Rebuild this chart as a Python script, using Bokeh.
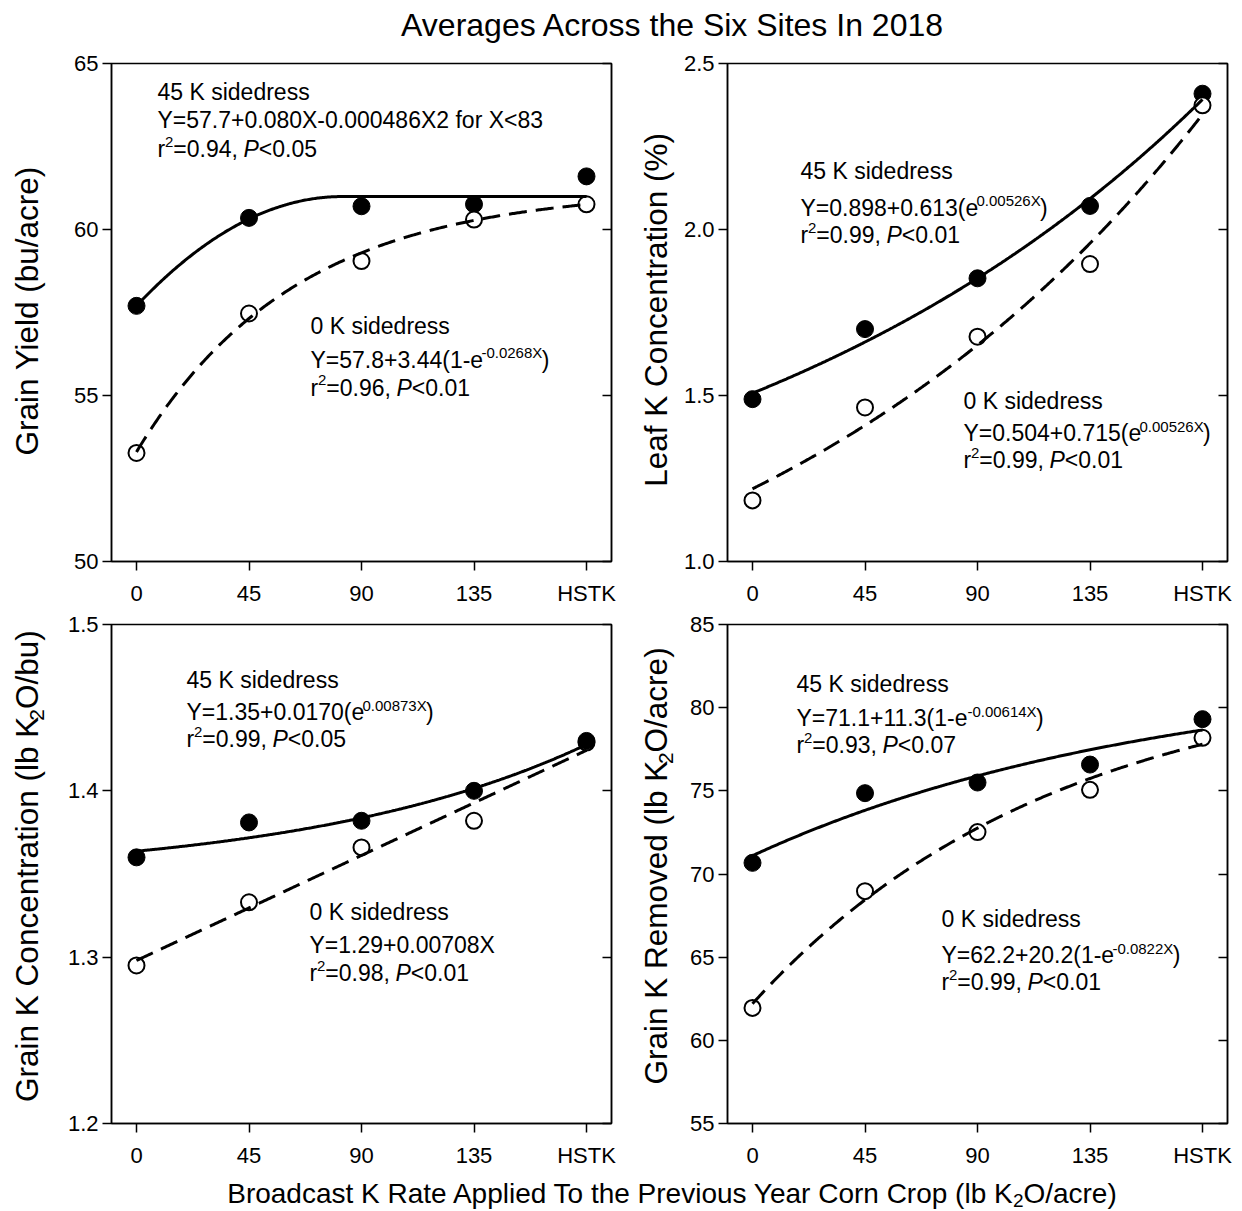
import numpy as np
from bokeh.plotting import figure
from bokeh.models import Range1d, FixedTicker, LinearAxis, NumeralTickFormatter, Label
from bokeh.core.properties import value
from bokeh.layouts import column, row
from bokeh.embed import file_html
from bokeh.resources import INLINE

FONT = "Liberation Sans"

# ---------------- data ----------------
rates = [0, 45, 90, 135, 180]
rate_labels = ["0", "45", "90", "135", "HSTK"]

yield_45 = [57.7, 60.35, 60.7, 60.76, 61.6]
yield_0 = [53.27, 57.47, 59.05, 60.3, 60.76]
leaf_45 = [1.489, 1.70, 1.853, 2.071, 2.409]
leaf_0 = [1.184, 1.464, 1.677, 1.896, 2.374]
gkc_45 = [1.360, 1.381, 1.382, 1.400, 1.430]
gkc_0 = [1.295, 1.333, 1.366, 1.382, 1.429]
gkr_45 = [70.67, 74.86, 75.50, 76.58, 79.31]
gkr_0 = [61.95, 68.97, 72.52, 75.06, 78.19]

# fitted-curve coefficients (as drawn)
fit_yield_45 = [57.7, 0.080, -0.000486]        # quadratic-plateau
fit_yield_0 = [53.3, 7.92, 0.01574]            # a + b(1-exp(-cX))
fit_leaf_45 = [0.884, 0.623, 0.00491]          # a + b exp(cX)
fit_leaf_0 = [0.504, 0.715, 0.00526]
fit_gkc_45 = [1.347, 0.0167, 0.00876]          # a + b exp(cX)
fit_gkc_0 = [1.298, 0.000702]                  # linear
fit_gkr_45 = [71.1, 11.3, 0.00614]             # a + b(1-exp(-cX))
fit_gkr_0 = [62.2, 20.2, 0.00822]

XS = np.linspace(0, 180, 361)


def quad_plateau(c):
    xj = -c[1] / (2 * c[2])
    xc = np.minimum(XS, xj)
    return c[0] + c[1] * xc + c[2] * xc ** 2


def exp_rise(c):
    return c[0] + c[1] * (1 - np.exp(-c[2] * XS))


def exp_growth(c):
    return c[0] + c[1] * np.exp(c[2] * XS)


def linear(c):
    return c[0] + c[1] * XS


# Arial / Liberation Sans advance widths (per 1000 em)
W = {' ': 278, '.': 278, ',': 278, '=': 584, '+': 584, '-': 333, '<': 584, '(': 333, ')': 333,
     '/': 278, '%': 889, 'X': 667, 'Y': 667, 'K': 667, 'P': 667, 'G': 778, 'C': 722, 'L': 556,
     'O': 778, 'R': 722, 'B': 667, 'A': 667, 'T': 611, 'S': 667, 'I': 278, 'H': 722,
     'a': 556, 'b': 556, 'c': 500, 'd': 556, 'e': 556, 'f': 278, 'g': 556, 'h': 556, 'i': 222,
     'j': 222, 'k': 500, 'l': 222, 'm': 833, 'n': 556, 'o': 556, 'p': 556, 'q': 556, 'r': 333,
     's': 500, 't': 278, 'u': 556, 'v': 500, 'w': 722, 'x': 500, 'y': 500, 'z': 500}

KMID = 0.36   # distance from alphabetic baseline to the text box middle, in em


def tw(s, size):
    return 0.99 * sum(W.get(ch, 556) for ch in s) / 1000.0 * size


class Pan:
    """maps page pixels to the data space of a panel"""
    def __init__(self, left, top, ylo, yhi):
        self.left, self.top, self.ylo, self.yhi = left, top, ylo, yhi

    def to_data(self, px, py):
        X = -10 + (px - self.left) / 500.0 * 200.0
        Y = self.yhi - (py - self.top) / 499.0 * (self.yhi - self.ylo)
        return X, Y


class Blank:
    """blank figure whose data units are page pixels inside its frame"""
    def __init__(self, left, top, w, h, bt=0, bb=0):
        self.left, self.w = left, w
        self.ftop = top + bt
        self.fh = h - bt - bb
        b = figure(width=w, height=h, x_range=Range1d(0, w), y_range=Range1d(0, self.fh),
                   output_backend="svg", toolbar_location=None,
                   min_border_left=0, min_border_right=0, min_border_top=bt, min_border_bottom=bb,
                   x_axis_type=None, y_axis_type=None)
        b.outline_line_color = None
        b.grid.visible = False
        self.fig = b

    def to_data(self, px, py):
        return px - self.left, self.fh - (py - self.ftop)


def add_label(p, X, Y, txt, size, style="normal", align="left"):
    p.add_layout(Label(x=X, y=Y, x_units="data", y_units="data", text=txt,
                       text_font=FONT, text_font_size=f"{size}px", text_font_style=style,
                       text_color="black", text_align=align, text_baseline="middle"))


def rich(p, pan, x0, base, segs, size=23, sup=15, raise_=10, lower=5, center=False):
    if center:
        total = sum(tw(t, sup if k in ("sup", "sub") else size) for t, k in segs)
        x0 = x0 - total / 2.0
    cx = x0
    for txt, kind in segs:
        fs = sup if kind in ("sup", "sub") else size
        dy = -raise_ if kind == "sup" else (lower if kind == "sub" else 0)
        X, Y = pan.to_data(cx, base + dy - KMID * fs)
        add_label(p, X, Y, txt, fs, "italic" if kind == "it" else "normal")
        cx += tw(txt, fs)


def rich_v(blank, xbase, ycenter, segs, size=31.5, sub=21, lower=6):
    total = sum(tw(t, sub if k == "sub" else size) for t, k in segs)
    cy = ycenter + total / 2.0
    for txt, kind in segs:
        fs = sub if kind == "sub" else size
        dx = lower if kind == "sub" else 0
        X, Y = blank.to_data(xbase + dx - KMID * fs, cy)
        blank.fig.text(x=[X], y=[Y], text=[txt], angle=np.pi / 2, text_font=value(FONT),
                       text_font_size=f"{fs}px", text_align="left", text_baseline="middle",
                       text_color="black")
        cy -= tw(txt, fs)


def make_panel(width, height, bl, br, bt, bb, ylo, yhi, ystep, yfmt):
    p = figure(width=width, height=height, x_range=Range1d(-10, 190), y_range=Range1d(ylo, yhi),
               output_backend="svg", toolbar_location=None,
               min_border_left=bl, min_border_right=br, min_border_top=bt, min_border_bottom=bb)
    p.grid.visible = False
    p.outline_line_color = "black"
    p.outline_line_width = 1.5
    p.outline_line_alpha = 1.0
    yt = list(np.round(np.arange(ylo, yhi + ystep / 2, ystep), 4))
    p.xaxis.ticker = FixedTicker(ticks=rates)
    p.xaxis.major_label_overrides = {r: l for r, l in zip(rates, rate_labels)}
    p.yaxis.ticker = FixedTicker(ticks=yt)
    p.yaxis.formatter = NumeralTickFormatter(format=yfmt)
    for ax in (p.xaxis[0], p.yaxis[0]):
        ax.major_tick_out = 9
        ax.major_tick_in = 0
        ax.minor_tick_line_color = None
        ax.major_tick_line_width = 1.5
        ax.axis_line_width = 1.5
        ax.major_label_text_font = FONT
        ax.major_label_text_font_size = "22px"
        ax.major_label_text_color = "black"
    p.xaxis.major_label_standoff = 10
    p.yaxis.major_label_standoff = 4
    rax = LinearAxis(ticker=FixedTicker(ticks=yt), major_tick_in=9, major_tick_out=0,
                     minor_tick_line_color=None, axis_line_width=1.5, major_tick_line_width=1.5,
                     major_label_overrides={t: "" for t in yt}, major_label_standoff=0)
    p.add_layout(rax, "right")
    return p


def draw(p, y45, y0, c45, c0, open_first=False):
    def solid_pts():
        p.scatter(rates, y45, size=17, marker="circle", fill_color="black", line_color="black")

    def open_pts():
        p.scatter(rates, y0, size=16, marker="circle", fill_color="white", line_color="black",
                  line_width=2)
    if open_first:
        open_pts(); solid_pts()
    else:
        solid_pts(); open_pts()
    p.line(XS, c45, line_width=3, line_color="black")
    p.line(XS, c0, line_width=3, line_color="black", line_dash="18 9")


# ---------------- layout geometry (page pixels) ----------------
TITLE_H = 48
TOP_H = 560
BOT_H = 562
XLAB_H = 41
TOP_Y = TITLE_H
BOT_Y = TITLE_H + TOP_H
XL_Y = BOT_Y + BOT_H

p1 = make_panel(565, TOP_H, 51, 14, 15, 46, 50, 65, 5, "0")
p2 = make_panel(562, TOP_H, 47, 15, 15, 46, 1.0, 2.5, 0.5, "0.0")
p3 = make_panel(565, BOT_H, 51, 14, 16, 47, 1.2, 1.5, 0.1, "0.0")
p4 = make_panel(562, BOT_H, 47, 15, 16, 47, 55, 85, 5, "0")

pan1 = Pan(111, 63, 50, 65)
pan2 = Pan(727, 63, 1.0, 2.5)
pan3 = Pan(111, 624, 1.2, 1.5)
pan4 = Pan(727, 624, 55, 85)

draw(p1, yield_45, yield_0, quad_plateau(fit_yield_45), exp_rise(fit_yield_0))
draw(p2, leaf_45, leaf_0, exp_growth(fit_leaf_45), exp_growth(fit_leaf_0))
draw(p3, gkc_45, gkc_0, exp_growth(fit_gkc_45), linear(fit_gkc_0), open_first=True)
draw(p4, gkr_45, gkr_0, exp_rise(fit_gkr_45), exp_rise(fit_gkr_0))


def r2(val, pv):
    return [("r", "n"), ("2", "sup"), ("=" + val + ", ", "n"), ("P", "it"), ("<" + pv, "n")]


# panel 1 annotations
rich(p1, pan1, 157, 100, [("45 K sidedress", "n")])
rich(p1, pan1, 157, 128, [("Y=57.7+0.080X-0.000486X2 for X<83", "n")])
rich(p1, pan1, 157, 157, r2("0.94", "0.05"))
rich(p1, pan1, 310, 334, [("0 K sidedress", "n")])
rich(p1, pan1, 310, 368, [("Y=57.8+3.44(1-e", "n"), ("-0.0268X", "sup"), (")", "n")])
rich(p1, pan1, 310, 396, r2("0.96", "0.01"))

# panel 2
rich(p2, pan2, 800, 179, [("45 K sidedress", "n")])
rich(p2, pan2, 800, 216, [("Y=0.898+0.613(e", "n"), ("0.00526X", "sup"), (")", "n")])
rich(p2, pan2, 800, 243, r2("0.99", "0.01"))
rich(p2, pan2, 963, 409, [("0 K sidedress", "n")])
rich(p2, pan2, 963, 442, [("Y=0.504+0.715(e", "n"), ("0.00526X", "sup"), (")", "n")])
rich(p2, pan2, 963, 469, r2("0.99", "0.01"))

# panel 3
rich(p3, pan3, 186, 688, [("45 K sidedress", "n")])
rich(p3, pan3, 186, 720, [("Y=1.35+0.0170(e", "n"), ("0.00873X", "sup"), (")", "n")])
rich(p3, pan3, 186, 747, r2("0.99", "0.05"))
rich(p3, pan3, 309, 920, [("0 K sidedress", "n")])
rich(p3, pan3, 309, 953, [("Y=1.29+0.00708X", "n")])
rich(p3, pan3, 309, 981, r2("0.98", "0.01"))

# panel 4
rich(p4, pan4, 796, 692, [("45 K sidedress", "n")])
rich(p4, pan4, 796, 726, [("Y=71.1+11.3(1-e", "n"), ("-0.00614X", "sup"), (")", "n")])
rich(p4, pan4, 796, 753, r2("0.93", "0.07"))
rich(p4, pan4, 941, 927, [("0 K sidedress", "n")])
rich(p4, pan4, 941, 963, [("Y=62.2+20.2(1-e", "n"), ("-0.0822X", "sup"), (")", "n")])
rich(p4, pan4, 941, 990, r2("0.99", "0.01"))

# ---------------- y-axis title strips (frames aligned with the panels' frames) ----------------
yl1 = Blank(0, TOP_Y, 60, TOP_H, 15, 46)
yl2 = Blank(625, TOP_Y, 55, TOP_H, 15, 46)
yl3 = Blank(0, BOT_Y, 60, BOT_H, 16, 47)
yl4 = Blank(625, BOT_Y, 55, BOT_H, 16, 47)

rich_v(yl1, 38, 312, [("Grain Yield (bu/acre)", "n")])
rich_v(yl2, 667, 312, [("Leaf K Concentration (%)", "n")])
rich_v(yl3, 38, 866, [("Grain K Concentration (lb K", "n"), ("2", "sub"), ("O/bu)", "n")])
rich_v(yl4, 667, 866, [("Grain K Removed (lb K", "n"), ("2", "sub"), ("O/acre)", "n")])

# ---------------- title & x label ----------------
tb = Blank(0, 0, 1242, TITLE_H)
rich(tb.fig, tb, 670, 36, [("Averages Across the Six Sites In 2018", "n")], size=32, center=True)

xb = Blank(0, XL_Y, 1242, XLAB_H)
rich(xb.fig, xb, 671, 1203,
     [("Broadcast K Rate Applied To the Previous Year Corn Crop (lb K", "n"), ("2", "sub"),
      ("O/acre)", "n")], size=28, sup=19, lower=4, center=True)

layout = column(tb.fig,
                row(yl1.fig, p1, yl2.fig, p2),
                row(yl3.fig, p3, yl4.fig, p4),
                xb.fig)

open("out.html", "w").write(file_html(layout, INLINE))
